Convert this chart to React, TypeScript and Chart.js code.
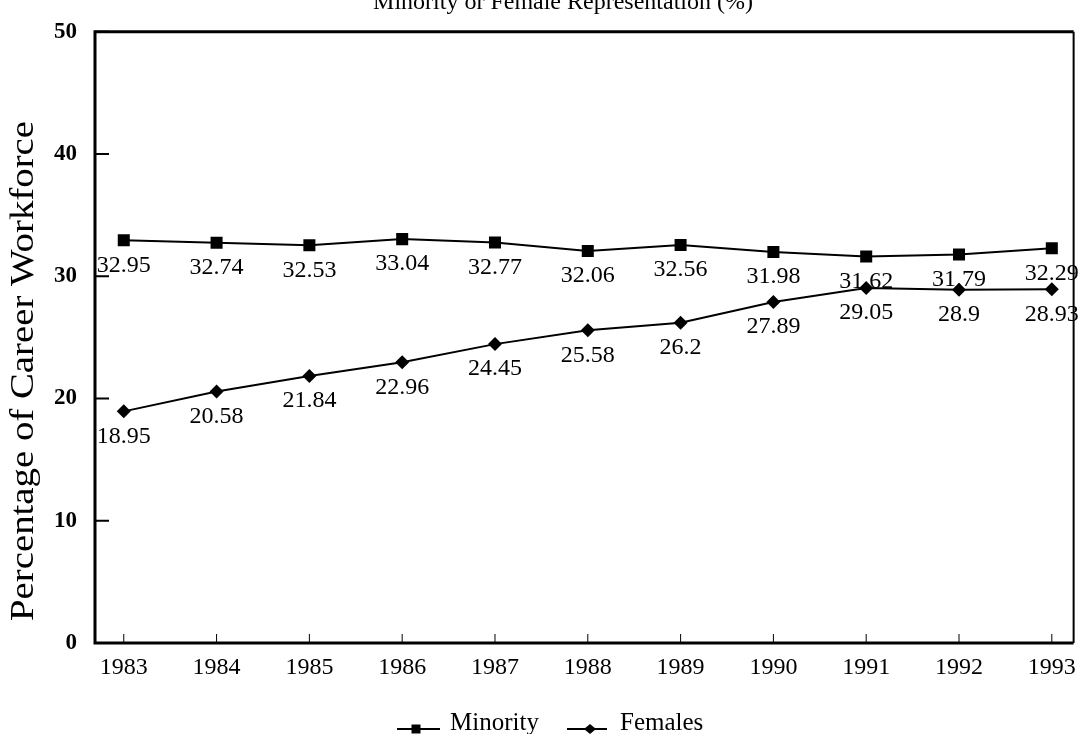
import React, { useEffect, useRef } from "react";
import { Chart, registerables } from "chart.js";

Chart.register(...registerables);

const years = [1983, 1984, 1985, 1986, 1987, 1988, 1989, 1990, 1991, 1992, 1993];
const minority = [32.95, 32.74, 32.53, 33.04, 32.77, 32.06, 32.56, 31.98, 31.62, 31.79, 32.29];
const females = [18.95, 20.58, 21.84, 22.96, 24.45, 25.58, 26.2, 27.89, 29.05, 28.9, 28.93];
const yTicks = [0, 10, 20, 30, 40, 50];
const seriesNames = ["Minority", "Females"];
const chartTitle = "Minority or Female Representation (%)";
const yAxisTitle = "Percentage of Career Workforce";

const SERIF = '"Liberation Serif", "Times New Roman", serif';

const customPlugin = {
  id: "customDraw",
  beforeDatasetsDraw(chart: any) {
    const { ctx, chartArea } = chart;
    const { left, top, right, bottom } = chartArea;
    const xs = chart.scales.x;
    const ys = chart.scales.y;
    ctx.save();
    ctx.strokeStyle = "#000";
    // frame
    ctx.lineWidth = 3;
    ctx.beginPath();
    ctx.moveTo(left, top);
    ctx.lineTo(right, top);
    ctx.moveTo(left, top - 1.5);
    ctx.lineTo(left, bottom + 1.5);
    ctx.moveTo(left, bottom);
    ctx.lineTo(right, bottom);
    ctx.stroke();
    ctx.lineWidth = 2;
    ctx.beginPath();
    ctx.moveTo(right, top);
    ctx.lineTo(right, bottom);
    ctx.stroke();
    // inward y ticks
    ctx.lineWidth = 2;
    ctx.beginPath();
    yTicks.forEach((v) => {
      const y = ys.getPixelForValue(v);
      ctx.moveTo(left, y);
      ctx.lineTo(left + 14, y);
    });
    ctx.stroke();
    // inward x ticks
    ctx.lineWidth = 1;
    ctx.beginPath();
    years.forEach((v) => {
      const x = xs.getPixelForValue(v);
      ctx.moveTo(x, bottom);
      ctx.lineTo(x, bottom - 9);
    });
    ctx.stroke();
    ctx.restore();
  },
  afterDatasetsDraw(chart: any) {
    const { ctx } = chart;
    ctx.save();
    ctx.fillStyle = "#000";
    // data labels
    ctx.font = `24px ${SERIF}`;
    ctx.textAlign = "center";
    ctx.textBaseline = "middle";
    chart.data.datasets.forEach((ds: any, di: number) => {
      const meta = chart.getDatasetMeta(di);
      meta.data.forEach((pt: any, i: number) => {
        ctx.fillText(String(ds.data[i].y), pt.x, pt.y + 25);
      });
    });
    // title (partially cut at top)
    ctx.font = `24px ${SERIF}`;
    ctx.textAlign = "center";
    ctx.textBaseline = "alphabetic";
    ctx.fillText(chartTitle, 563, 9);
    // y-axis title
    ctx.save();
    ctx.translate(33, 371);
    ctx.rotate(-Math.PI / 2);
    ctx.font = `33px ${SERIF}`;
    const w = ctx.measureText(yAxisTitle).width;
    ctx.scale(500 / w, 1);
    ctx.textAlign = "center";
    ctx.textBaseline = "alphabetic";
    ctx.fillText(yAxisTitle, 0, 0);
    ctx.restore();
    // legend
    const items = [
      { name: seriesNames[0], x0: 397, x1: 440, mx: 416, tx: 450, style: "rect" },
      { name: seriesNames[1], x0: 567, x1: 607, mx: 590, tx: 620, style: "diamond" },
    ];
    const ly = 729;
    items.forEach((it) => {
      ctx.strokeStyle = "#000";
      ctx.lineWidth = 2;
      ctx.beginPath();
      ctx.moveTo(it.x0, ly);
      ctx.lineTo(it.x1, ly);
      ctx.stroke();
      ctx.beginPath();
      if (it.style === "rect") {
        ctx.rect(it.mx - 4.5, ly - 4.5, 9, 9);
      } else {
        ctx.moveTo(it.mx - 6, ly);
        ctx.lineTo(it.mx, ly - 5);
        ctx.lineTo(it.mx + 6, ly);
        ctx.lineTo(it.mx, ly + 5);
        ctx.closePath();
      }
      ctx.fill();
      ctx.font = `25px ${SERIF}`;
      ctx.textAlign = "left";
      ctx.textBaseline = "alphabetic";
      ctx.fillText(it.name, it.tx, 730);
    });
    ctx.restore();
  },
};

export default function App() {
  const ref = useRef<HTMLCanvasElement | null>(null);
  useEffect(() => {
    if (!ref.current) return;
    const chart = new Chart(ref.current, {
      type: "line",
      data: {
        datasets: [
          {
            label: seriesNames[0],
            data: years.map((y, i) => ({ x: y, y: minority[i] })),
            borderColor: "#000",
            backgroundColor: "#000",
            borderWidth: 2,
            pointStyle: "rect",
            pointRadius: 8.5,
            pointBackgroundColor: "#000",
            pointBorderWidth: 0,
            tension: 0,
          },
          {
            label: seriesNames[1],
            data: years.map((y, i) => ({ x: y, y: females[i] })),
            borderColor: "#000",
            backgroundColor: "#000",
            borderWidth: 2,
            pointStyle: "rectRot",
            pointRadius: 7,
            pointBackgroundColor: "#000",
            pointBorderWidth: 0,
            tension: 0,
          },
        ],
      },
      options: {
        animation: false,
        responsive: false,
        devicePixelRatio: 1,
        layout: { padding: { left: 0, right: 4, top: 22, bottom: 41 } },
        plugins: {
          legend: { display: false },
          tooltip: { enabled: false },
          title: { display: false },
        },
        scales: {
          x: {
            type: "linear",
            min: 1982.69,
            max: 1993.235,
            afterBuildTicks: (s: any) => {
              s.ticks = years.map((v) => ({ value: v }));
            },
            afterFit: (s: any) => {
              s.height = 50;
            },
            ticks: {
              color: "#000",
              font: { family: SERIF, size: 24 },
              padding: 10,
              maxRotation: 0,
              autoSkip: false,
              callback: (v: any) => String(v),
            },
            grid: { display: false, drawTicks: false },
            border: { display: false },
          },
          y: {
            min: 0,
            max: 50,
            afterBuildTicks: (s: any) => {
              s.ticks = yTicks.map((v) => ({ value: v }));
            },
            afterFit: (s: any) => {
              s.width = 95;
            },
            ticks: {
              color: "#000",
              font: { family: SERIF, size: 23, weight: "bold" },
              padding: 18,
            },
            grid: { display: false, drawTicks: false },
            border: { display: false },
          },
        },
      },
      plugins: [customPlugin],
    });
    return () => chart.destroy();
  }, []);
  return (
    <div style={{ position: "absolute", left: 0, top: 0, width: 1086, height: 734, background: "#fff" }}>
      <canvas ref={ref} width={1086} height={734} style={{ display: "block" }} />
    </div>
  );
}
